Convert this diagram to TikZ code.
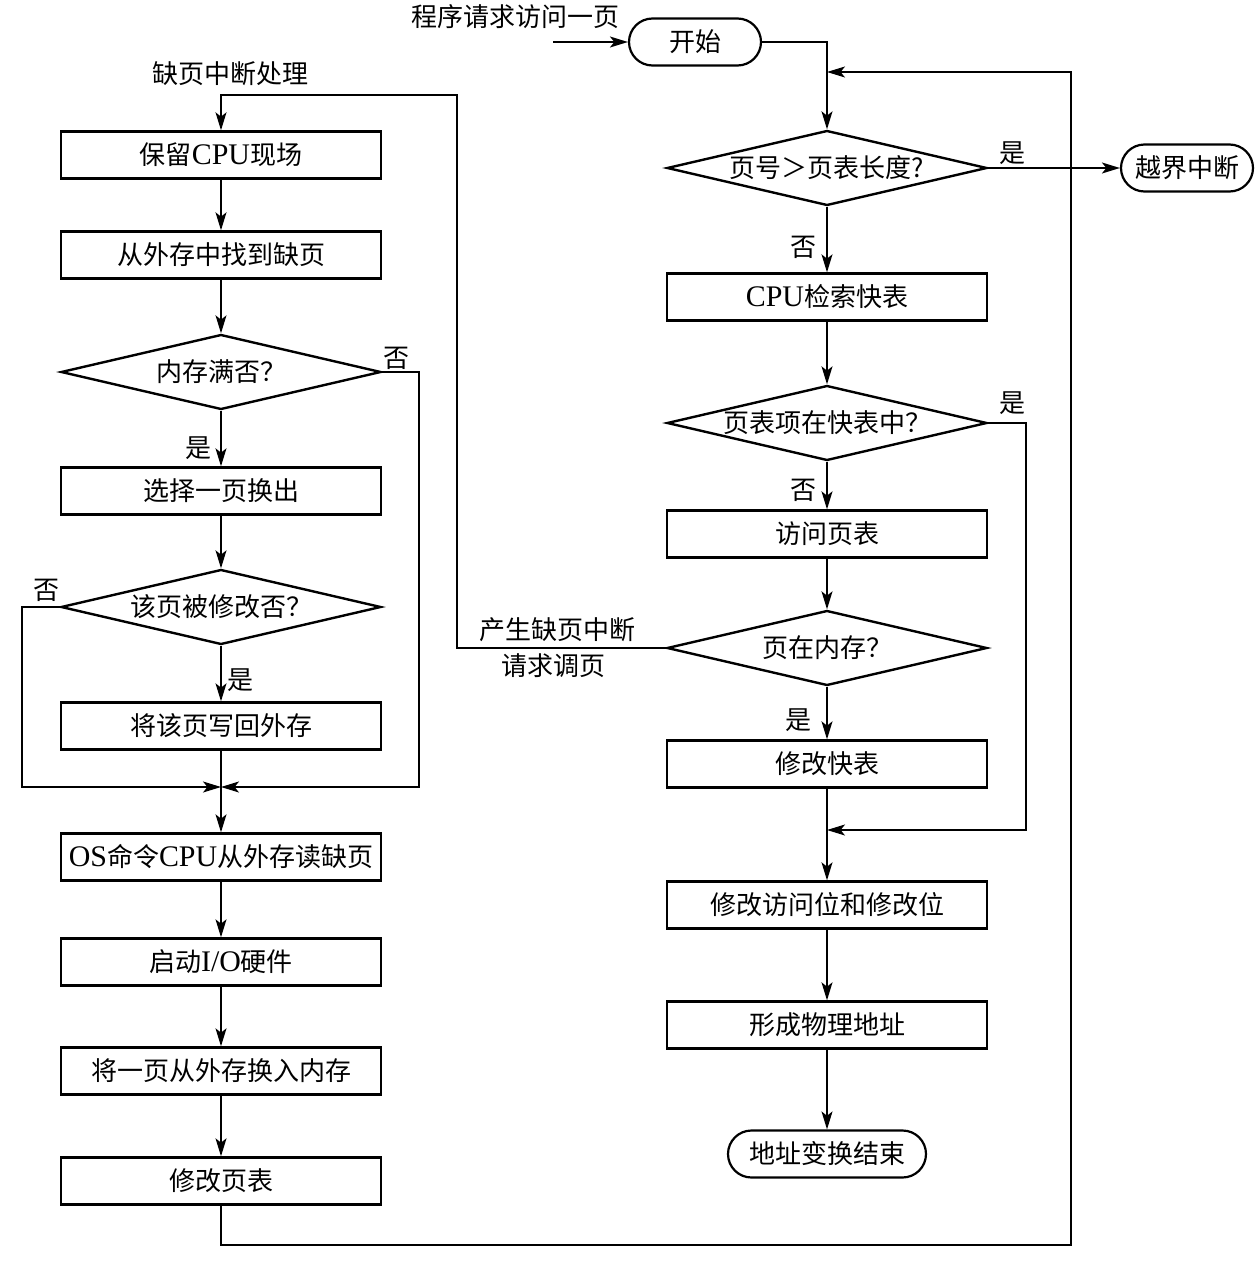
\documentclass[tikz,border=0pt]{standalone}
\usepackage{fontspec}
\setmainfont{Noto Sans CJK SC}
\newfontfamily\lat[Scale=1.15]{Liberation Serif}
\usetikzlibrary{arrows.meta,shapes.geometric}
\tikzset{
  box/.style={draw, line width=1.2pt, minimum width=160pt, minimum height=23.5pt, inner sep=0pt},
  term/.style={draw, line width=1.1pt, rounded corners=11.75pt, minimum height=23.5pt, inner sep=0pt},
  dia/.style={draw, diamond, line width=1.2pt, minimum width=160pt, minimum height=37.5pt, shape aspect=4.3, inner sep=0pt},
  lab/.style={inner sep=0pt},
  conn/.style={line width=0.7pt},
  arr/.style={conn, -{Stealth[length=9pt,width=5.5pt,inset=2.2pt]}},
}
\begin{document}
\begin{tikzpicture}[x=0.5pt,y=-0.5pt,font=\fontsize{13}{15}\selectfont]
\useasboundingbox (0,0) rectangle (1258,1274);
% left column
\node[box] (L1) at (221,155) {保留{\lat CPU}现场};
\node[box] (L2) at (221,255) {从外存中找到缺页};
\node[dia] (D1) at (221,372) {内存满否？};
\node[box] (L3) at (221,491) {选择一页换出};
\node[dia] (D2) at (221,607) {该页被修改否？};
\node[box] (L4) at (221,726) {将该页写回外存};
\coordinate (J) at (221,787);
\node[box] (L5) at (221,857) {{\lat OS}命令{\lat CPU}从外存读缺页};
\node[box] (L6) at (221,962) {启动{\lat I/O}硬件};
\node[box] (L7) at (221,1071) {将一页从外存换入内存};
\node[box] (L8) at (221,1181) {修改页表};
% right column
\node[term, minimum width=66pt] (S) at (695,42) {开始};
\coordinate (Sin) at (553,42);
\node[dia] (R1) at (827,168) {页号＞页表长度?};
\node[term, minimum width=66pt] (X) at (1187,168) {越界中断};
\node[box] (R2) at (827,297) {{\lat CPU}检索快表};
\node[dia] (R3) at (827,423) {页表项在快表中？};
\node[box] (R4) at (827,534) {访问页表};
\node[dia] (R5) at (827,648) {页在内存？};
\node[box] (R6) at (827,764) {修改快表};
\coordinate (J2) at (827,830);
\node[box] (R7) at (827,905) {修改访问位和修改位};
\node[box] (R8) at (827,1025) {形成物理地址};
\node[term, minimum width=99pt] (E) at (827,1154) {地址变换结束};
% helper coordinates
\coordinate (R3r) at (1026,423);
\coordinate (D1r) at (419,372);
\coordinate (D2l) at (22,607);
\coordinate (B1) at (221,1245);
\coordinate (B2) at (1071,1245);
\coordinate (B3) at (1071,72);
\coordinate (T1) at (827,72);
\coordinate (F1) at (457,648);
\coordinate (F2) at (457,95);
% connectors right
\draw[arr] (Sin) -- (S);
\draw[arr] (S.east) -| (R1.north);
\draw[arr] (R1) -- (X);
\draw[arr] (R1) -- (R2);
\draw[arr] (R2) -- (R3);
\draw[arr] (R3) -- (R4);
\draw[arr] (R4) -- (R5);
\draw[arr] (R5) -- (R6);
\draw[arr] (R6) -- (R7);
\draw[arr] (R3.east) -- (R3r) |- (J2);
\draw[arr] (R7) -- (R8);
\draw[arr] (R8) -- (E);
% connectors left
\draw[arr] (L1) -- (L2);
\draw[arr] (L2) -- (D1);
\draw[arr] (D1) -- (L3);
\draw[arr] (L3) -- (D2);
\draw[arr] (D2) -- (L4);
\draw[conn] (L4.south) -- (J);
\draw[arr] (J) -- (L5.north);
\draw[arr] (D2.west) -- (D2l) |- (J);
\draw[arr] (D1.east) -- (D1r) |- (J);
\draw[arr] (L5) -- (L6);
\draw[arr] (L6) -- (L7);
\draw[arr] (L7) -- (L8);
\draw[arr] (L8.south) -- (B1) -- (B2) -- (B3) -- (T1);
\draw[arr] (R5.west) -- (F1) -- (F2) -| (L1.north);
% labels
\node[lab] (t1) at (515,17) {程序请求访问一页};
\node[lab] (t2) at (230,74) {缺页中断处理};
\node[lab] (t3) at (557,630) {产生缺页中断};
\node[lab] (t4) at (553,666) {请求调页};
\node[lab] (y1) at (1012,153) {是};
\node[lab] (n1) at (803,247) {否};
\node[lab] (y2) at (1012,403) {是};
\node[lab] (n2) at (803,490) {否};
\node[lab] (y3) at (798,720) {是};
\node[lab] (n3) at (396,358) {否};
\node[lab] (y4) at (198,448) {是};
\node[lab] (n4) at (46,590) {否};
\node[lab] (y5) at (240,680) {是};
\end{tikzpicture}
\end{document}
